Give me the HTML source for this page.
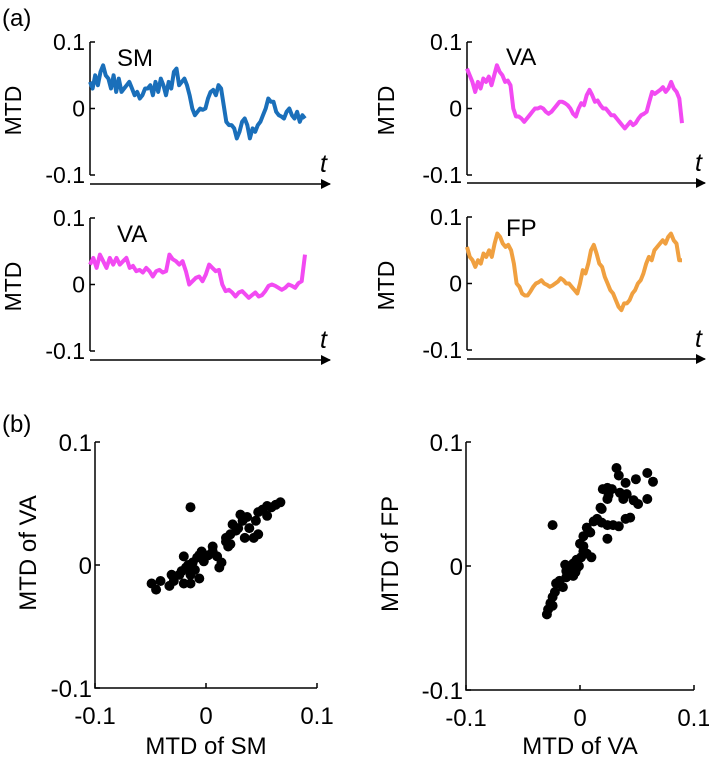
<!DOCTYPE html>
<html><head><meta charset="utf-8"><style>
html,body{margin:0;padding:0;background:#fff;}
svg{display:block;font-family:"Liberation Sans",Arial,sans-serif;}
</style></head><body>
<svg id="fig" width="709" height="760" viewBox="0 0 709 760">
<defs><marker id="arr" markerWidth="10" markerHeight="10" refX="9" refY="5" orient="auto" markerUnits="userSpaceOnUse"><path d="M0,0 L10,5 L0,10 z" fill="#000"/></marker></defs>
<text x="2" y="26" font-size="24">(a)</text>
<text x="2" y="432" font-size="24">(b)</text>
</svg>
<script>
const smSeries=[0.04,0.03,0.05,0.035,0.055,0.065,0.05,0.045,0.03,0.05,0.025,0.045,0.025,0.03,0.035,0.04,0.03,0.02,0.025,0.015,0.02,0.03,0.03,0.035,0.02,0.04,0.025,0.045,0.035,0.02,0.04,0.03,0.055,0.06,0.035,0.04,0.045,0.035,0.02,0.0,-0.01,-0.005,0.0,-0.002,0.0,0.015,0.025,0.028,0.02,0.035,0.03,0.005,-0.02,-0.025,-0.025,-0.03,-0.045,-0.035,-0.02,-0.015,-0.025,-0.045,-0.03,-0.035,-0.025,-0.02,-0.01,0.0,0.015,0.01,0.01,-0.005,-0.01,-0.012,-0.015,-0.005,0.0,-0.01,-0.015,-0.005,-0.02,-0.01,-0.015];
const vaSeriesA=[0.03,0.04,0.025,0.045,0.035,0.025,0.04,0.03,0.04,0.03,0.035,0.04,0.025,0.028,0.02,0.022,0.018,0.025,0.02,0.012,0.02,0.022,0.018,0.02,0.045,0.038,0.035,0.03,0.035,0.02,0.0,0.005,0.01,0.012,0.005,0.015,0.03,0.025,0.02,0.022,0.0,-0.01,-0.008,-0.012,-0.018,-0.012,-0.01,-0.015,-0.02,-0.016,-0.012,-0.018,-0.016,-0.01,-0.002,0.0,-0.002,-0.005,-0.008,-0.005,0.0,-0.002,-0.005,0.002,0.005,0.045];
const vaSeriesB=[0.06,0.05,0.04,0.025,0.04,0.03,0.045,0.04,0.048,0.035,0.05,0.065,0.055,0.05,0.04,0.042,0.035,0.0,-0.012,-0.012,-0.015,-0.02,-0.015,-0.01,-0.005,0.0,0.0,0.002,0.0,-0.005,-0.008,-0.005,0.0,0.005,0.01,0.01,0.008,0.005,0.0,-0.008,-0.012,0.0,0.008,0.005,0.02,0.028,0.02,0.01,0.012,0.005,0.0,0.0,-0.005,-0.01,-0.01,-0.015,-0.02,-0.025,-0.03,-0.025,-0.02,-0.025,-0.022,-0.015,-0.01,-0.008,-0.005,0.01,0.025,0.022,0.025,0.028,0.032,0.025,0.03,0.04,0.03,0.025,0.015,-0.022];
const fpSeries=[0.055,0.04,0.035,0.025,0.035,0.03,0.045,0.04,0.05,0.04,0.06,0.075,0.07,0.06,0.055,0.058,0.05,0.03,0.0,-0.005,-0.015,-0.018,-0.018,-0.012,-0.005,0.0,0.002,0.005,0.0,-0.002,-0.005,-0.003,0.0,0.003,0.008,0.005,0.0,0.0,-0.005,-0.01,-0.015,0.0,0.02,0.015,0.03,0.05,0.058,0.045,0.03,0.025,0.01,0.0,-0.01,-0.015,-0.025,-0.035,-0.04,-0.03,-0.03,-0.025,-0.015,-0.01,0.0,0.005,0.015,0.03,0.04,0.035,0.05,0.055,0.06,0.065,0.06,0.07,0.075,0.065,0.06,0.035,0.035];
const tickValues=[0.1,0,-0.1];
const tickLabels=["0.1","0","-0.1"];
const smX=[-0.014,-0.049,-0.045,-0.041,-0.033,-0.029,-0.031,-0.022,-0.020,-0.014,-0.018,-0.016,-0.020,-0.012,-0.010,-0.006,-0.008,-0.004,-0.002,0.002,0.006,0.010,0.014,0.012,0.006,0.018,0.020,0.022,0.027,0.024,0.029,0.033,0.031,0.037,0.039,0.043,0.045,0.047,0.051,0.055,0.059,0.063,0.067,0.055,0.047,0.035,0.018,0.022,-0.006,-0.024,-0.014];
const vaY=[0.047,-0.015,-0.020,-0.013,-0.017,-0.013,-0.008,-0.005,-0.015,-0.015,-0.002,0.0,0.007,0.002,-0.004,-0.011,0.006,0.011,0.003,0.008,0.015,0.007,0.002,-0.002,0.011,0.022,0.015,0.025,0.028,0.033,0.030,0.036,0.041,0.039,0.030,0.022,0.036,0.043,0.045,0.048,0.047,0.049,0.051,0.040,0.025,0.022,0.019,0.017,0.008,-0.008,-0.008];
const vaX=[0.032,0.034,0.059,0.064,0.049,0.040,0.020,0.024,0.028,0.035,0.041,0.038,0.047,0.051,0.059,0.024,0.025,0.018,0.019,0.015,0.019,0.024,0.029,0.034,0.040,0.044,-0.024,0.012,0.006,0.009,0.003,0.024,0.0,0.003,0.006,0.010,0.001,-0.003,-0.006,-0.009,-0.013,-0.012,-0.007,-0.003,-0.006,-0.012,-0.018,-0.021,-0.015,-0.022,-0.024,-0.026,-0.024,-0.028,-0.029,0.003,-0.001,-0.004,-0.009];
const fpY=[0.079,0.073,0.075,0.068,0.070,0.067,0.062,0.063,0.062,0.059,0.058,0.054,0.053,0.050,0.054,0.054,0.057,0.047,0.046,0.038,0.035,0.033,0.033,0.032,0.038,0.039,0.033,0.036,0.031,0.027,0.024,0.022,0.018,0.016,0.010,0.007,0.007,0.005,0.002,-0.001,0.001,-0.004,-0.005,-0.002,-0.008,-0.009,-0.012,-0.014,-0.017,-0.021,-0.025,-0.030,-0.032,-0.035,-0.039,0.012,0.0,-0.005,-0.006];

const NS="http://www.w3.org/2000/svg";
const svg=document.getElementById('fig');
function mk(tag,attrs,parent){const e=document.createElementNS(NS,tag);for(const k in attrs)e.setAttribute(k,attrs[k]);(parent||svg).appendChild(e);return e;}

function tsPanel(p){
  const g=mk('g',{});
  
  
  const yS=v=>p.y0-v/0.1*(p.y0-p.yTop);
  const xS=i=>p.ax+ (i/(p.data.length-1))*(p.xEnd-p.ax);
  const axis=mk('line',{x1:p.ax,y1:yS(0.1),x2:p.ax,y2:yS(-0.1),stroke:'#000','stroke-width':1.5},g);
  
  
  tickValues.forEach((v,i)=>{
    const t=mk('line',{x1:p.ax,y1:yS(v),x2:p.ax+5,y2:yS(v),stroke:'#000','stroke-width':1.5},g);
    
    
    const l=mk('text',{x:p.ax-5,y:yS(v)+8,'font-size':23,'text-anchor':'end'},g);
    l.textContent=tickLabels[i];
    
    
  });
  const ar=mk('line',{x1:p.ax,y1:p.arrowY,x2:p.arrowEnd,y2:p.arrowY,stroke:'#000','stroke-width':1.5,'marker-end':'url(#arr)'},g);
  
  
  const tl=mk('text',{x:p.arrowEnd-10,y:p.arrowY-12,'font-size':25,'font-style':'italic'},g);
  tl.textContent='t';
  
  
  const yl=mk('text',{x:0,y:0,'font-size':23,'text-anchor':'middle',transform:`translate(${p.labX},${yS(0)+2}) rotate(-90)`},g);
  yl.textContent='MTD';
  
  
  const ti=mk('text',{x:p.titleX,y:p.titleY,'font-size':24},g);
  ti.textContent=p.title;
  
  
  const pl=mk('polyline',{points:p.data.map((v,i)=>xS(i).toFixed(1)+','+yS(v).toFixed(1)).join(' '),fill:'none',stroke:p.color,'stroke-width':4,'stroke-linejoin':'round'},g);
  
  
}
tsPanel({name:'panel-sm-timeseries',data:smSeries,color:'#1a6fba',title:'SM',ax:90,xEnd:305,yTop:42,y0:108.5,arrowY:184,arrowEnd:330,labX:21,titleX:117,titleY:66});
tsPanel({name:'panel-va-timeseries-left',data:vaSeriesA,color:'#f24af2',title:'VA',ax:90,xEnd:305,yTop:218,y0:284.5,arrowY:360,arrowEnd:330,labX:21,titleX:117,titleY:242});
tsPanel({name:'panel-va-timeseries-right',data:vaSeriesB,color:'#f24af2',title:'VA',ax:467,xEnd:682,yTop:42,y0:108.5,arrowY:183,arrowEnd:705,labX:394,titleX:506,titleY:65});
tsPanel({name:'panel-fp-timeseries',data:fpSeries,color:'#f0a040',title:'FP',ax:467,xEnd:682,yTop:217,y0:283.5,arrowY:359,arrowEnd:705,labX:394,titleX:506,titleY:236});

function scatter(p){
  const g=mk('g',{});
  
  
  const xS=v=>p.x0+v/0.1*(p.xRight-p.x0);
  const yS=v=>p.y0-v/0.1*(p.y0-p.yTop);
  const ax=mk('polyline',{points:`${xS(-0.1)},${yS(0.1)} ${xS(-0.1)},${yS(-0.1)} ${xS(0.1)},${yS(-0.1)}`,fill:'none',stroke:'#000','stroke-width':1.5},g);
  
  
  tickValues.forEach((v,i)=>{
    const t=mk('line',{x1:xS(-0.1),y1:yS(v),x2:xS(-0.1)+5,y2:yS(v),stroke:'#000','stroke-width':1.5},g);
    
    
    const l=mk('text',{x:xS(-0.1)-3,y:yS(v)+9,'font-size':24,'text-anchor':'end'},g);
    l.textContent=tickLabels[i];
    
    
    const tx=mk('line',{x1:xS(v),y1:yS(-0.1),x2:xS(v),y2:yS(-0.1)-5,stroke:'#000','stroke-width':1.5},g);
    
    
    const lx=mk('text',{x:xS(v),y:yS(-0.1)+36,'font-size':24,'text-anchor':'middle'},g);
    lx.textContent=tickLabels[i];
    
    
  });
  const xl=mk('text',{x:xS(0),y:754,'font-size':24,'text-anchor':'middle'},g);
  xl.textContent=p.xlab;
  
  
  const yl=mk('text',{x:0,y:0,'font-size':24,'text-anchor':'middle',transform:`translate(${p.labX},${yS(0)-12}) rotate(-90)`},g);
  yl.textContent=p.ylab;
  
  
  p.xs.forEach((xv,i)=>{
    const c=mk('circle',{cx:xS(xv).toFixed(1),cy:yS(p.ys[i]).toFixed(1),r:5,fill:'#000'},g);
    
    
  });
}
scatter({name:'scatter-sm-vs-va',xs:smX,ys:vaY,x0:206,xRight:317,y0:565,yTop:442,labX:36,xlab:'MTD of SM',ylab:'MTD of VA'});
scatter({name:'scatter-va-vs-fp',xs:vaX,ys:fpY,x0:580,xRight:694,y0:566,yTop:442,labX:398,xlab:'MTD of VA',ylab:'MTD of FP'});
</script>
</body></html>
